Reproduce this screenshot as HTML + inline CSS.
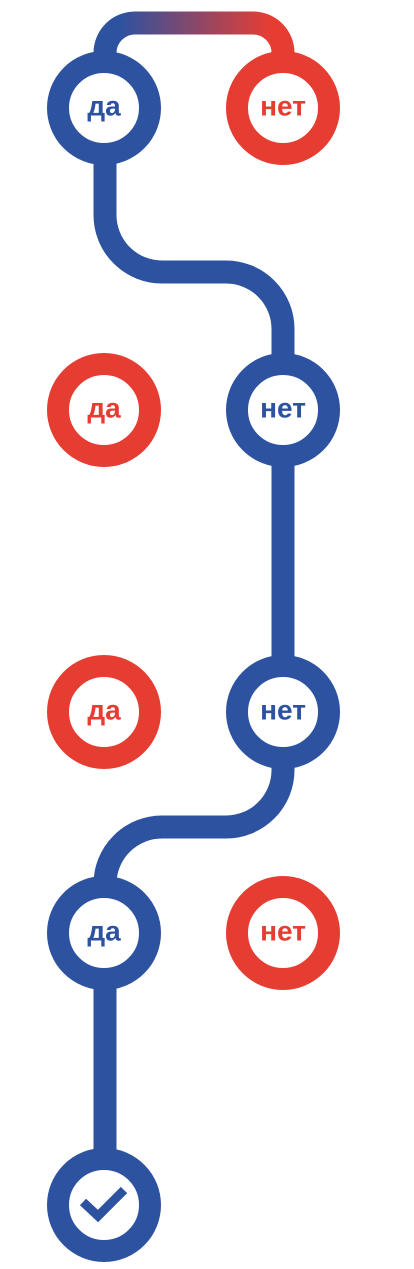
<!DOCTYPE html>
<html><head><meta charset="utf-8"><style>
html,body{margin:0;padding:0;background:#fff;}
svg{display:block}
text{font-family:"Liberation Sans","DejaVu Sans",sans-serif;font-weight:bold;font-size:28px;text-anchor:middle;dominant-baseline:central}
</style></head><body>
<svg width="414" height="1269" viewBox="0 0 414 1269">
<defs><linearGradient id="g" x1="120" y1="0" x2="270" y2="0" gradientUnits="userSpaceOnUse"><stop offset="0" stop-color="#2d52a0"/><stop offset="1" stop-color="#e63d33"/></linearGradient></defs>
<g fill="none" stroke-width="23">
<path d="M105,60 V53 A30,30 0 0 1 135,23 H253 A30,30 0 0 1 283,53 V60" stroke="url(#g)"/>
<path d="M105,160 V215 A57,57 0 0 0 162,272 H226 A57,57 0 0 1 283,329 V360" stroke="#2d52a0"/>
<path d="M283,460 V660" stroke="#2d52a0"/>
<path d="M283,765 V770 A57,57 0 0 1 226,827 H162 A57,57 0 0 0 105,884 V890" stroke="#2d52a0"/>
<path d="M105,985 V1155" stroke="#2d52a0"/>
</g>
<g stroke-width="22" fill="#fff">
<g><circle cx="104" cy="108" r="46" stroke="#2d52a0"/><text x="104" y="106" fill="#2d52a0">да</text></g>
<g><circle cx="283" cy="108" r="46" stroke="#e63d33"/><text x="283" y="106" fill="#e63d33">нет</text></g>
<g><circle cx="104" cy="410" r="46" stroke="#e63d33"/><text x="104" y="408" fill="#e63d33">да</text></g>
<g><circle cx="283" cy="410" r="46" stroke="#2d52a0"/><text x="283" y="408" fill="#2d52a0">нет</text></g>
<g><circle cx="104" cy="712" r="46" stroke="#e63d33"/><text x="104" y="710" fill="#e63d33">да</text></g>
<g><circle cx="283" cy="712" r="46" stroke="#2d52a0"/><text x="283" y="710" fill="#2d52a0">нет</text></g>
<g><circle cx="104" cy="933" r="46" stroke="#2d52a0"/><text x="104" y="931" fill="#2d52a0">да</text></g>
<g><circle cx="283" cy="933" r="46" stroke="#e63d33"/><text x="283" y="931" fill="#e63d33">нет</text></g>
<g><circle cx="104" cy="1205" r="46" stroke="#2d52a0"/>
<path d="M83,1202 L98,1216 L124,1190" fill="none" stroke="#2d52a0" stroke-width="9"/></g>
</g>
</svg>
</body></html>
